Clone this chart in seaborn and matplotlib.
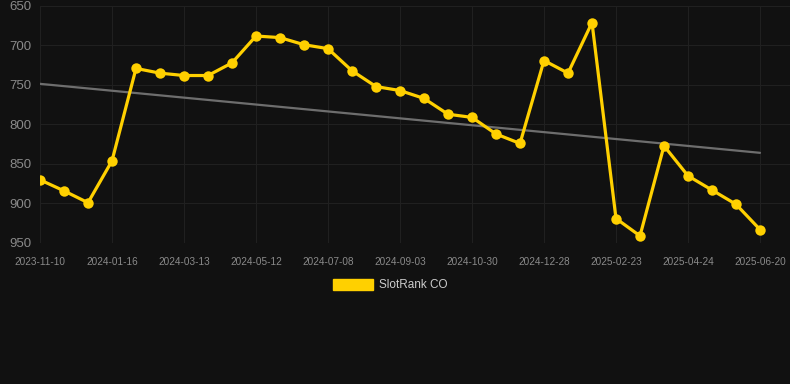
import numpy as np
import pandas as pd
import matplotlib
matplotlib.use("Agg")
import matplotlib.pyplot as plt
from matplotlib.patches import Patch
import seaborn as sns

# ==========================================
# DATA
# ==========================================
rank_values = [870, 884, 899, 846, 729, 735, 738, 738, 722, 688,
               690, 699, 704, 732, 752, 757, 767, 787, 791, 812,
               824, 719, 735, 671, 919, 941, 827, 865, 883, 901, 933]
tick_labels = ['2023-11-10', '2024-01-16', '2024-03-13', '2024-05-12',
               '2024-07-08', '2024-09-03', '2024-10-30', '2024-12-28',
               '2025-02-23', '2025-04-24', '2025-06-20']
y_ticks = [650, 700, 750, 800, 850, 900, 950]
series_name = 'SlotRank CO'

BG = '#111111'
GRID = '#202020'
YELLOW = '#FFD000'
TREND = '#6e6e6e'

df = pd.DataFrame({'idx': np.arange(len(rank_values)), 'rank': rank_values})

# linear trend over the series
slope, intercept = np.polyfit(df['idx'], df['rank'], 1)
trend_x = np.array([df['idx'].min(), df['idx'].max()])
trend_df = pd.DataFrame({'idx': trend_x, 'rank': slope * trend_x + intercept})

sns.set_style('dark')
plt.rcParams['font.family'] = ['Liberation Sans', 'DejaVu Sans']

fig = plt.figure(figsize=(7.9, 3.84), dpi=100, facecolor=BG)
ax = fig.add_axes([40 / 790, 141 / 384, 750 / 790, 237 / 384], facecolor=BG)

sns.lineplot(data=trend_df, x='idx', y='rank', ax=ax, color=TREND, lw=1.6, zorder=2)
sns.lineplot(data=df, x='idx', y='rank', ax=ax, color=YELLOW, lw=2.3,
             marker='o', markersize=7.5, markeredgewidth=0, zorder=3)

ax.set_xlim(0, 31.25)
ax.set_ylim(950, 650)
ax.set_yticks(y_ticks)
ax.set_xticks(np.arange(0, len(rank_values), 3))
ax.set_xticklabels(tick_labels)
ax.set_xlabel('')
ax.set_ylabel('')

ax.grid(True, color=GRID, lw=0.8)
ax.tick_params(axis='y', colors='#8a8a8a', labelsize=9.5, length=0, pad=6)
ax.tick_params(axis='x', colors=GRID, labelcolor='#8a8a8a', labelsize=7.2,
               length=7, width=0.8, pad=3)
for s in ax.spines.values():
    s.set_visible(False)

ax.legend(handles=[Patch(color=YELLOW, label=series_name)], loc='upper center',
          bbox_to_anchor=(0.467, -0.105), frameon=False, handlelength=3.4,
          handleheight=1.1, handletextpad=0.5, fontsize=8.5, labelcolor='#cccccc')

fig.savefig('out.png', dpi=100, facecolor=BG)
